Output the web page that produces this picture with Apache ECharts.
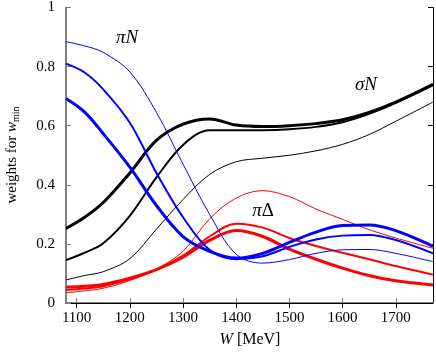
<!DOCTYPE html>
<html>
<head>
<meta charset="utf-8">
<script src="https://cdn.jsdelivr.net/npm/echarts@6/dist/echarts.min.js"></script>
<style>
  html, body { margin: 0; padding: 0; background: #fff; }
  #chart { width: 436px; height: 353px; }
</style>
</head>
<body>
<div id="chart"></div>
<script>
// W grid in MeV
const wGrid = [1080, 1115, 1150, 1200, 1250, 1300, 1350, 1400, 1450, 1500, 1550, 1600, 1650, 1700, 1770]
const xTicks = [1100, 1200, 1300, 1400, 1500, 1600, 1700]

// pi N weights (thin, medium, thick)
const piNThin = [0.884, 0.87, 0.848, 0.782, 0.645, 0.47, 0.3, 0.165, 0.135, 0.147, 0.168, 0.18, 0.181, 0.168, 0.14]
const piNMed = [0.81, 0.78, 0.723, 0.61, 0.44, 0.29, 0.18, 0.148, 0.158, 0.19, 0.215, 0.228, 0.23, 0.213, 0.168]
const piNThick = [0.692, 0.646, 0.573, 0.46, 0.33, 0.225, 0.175, 0.152, 0.168, 0.205, 0.24, 0.262, 0.264, 0.245, 0.192]

// sigma N weights
const sigmaNThin = [0.078, 0.093, 0.106, 0.15, 0.25, 0.35, 0.435, 0.478, 0.49, 0.5, 0.515, 0.537, 0.57, 0.615, 0.68]
const sigmaNMed = [0.145, 0.17, 0.202, 0.295, 0.425, 0.535, 0.585, 0.585, 0.585, 0.588, 0.596, 0.612, 0.64, 0.677, 0.737]
const sigmaNThick = [0.252, 0.29, 0.34, 0.44, 0.55, 0.605, 0.623, 0.602, 0.597, 0.6, 0.607, 0.62, 0.645, 0.68, 0.74]

// pi Delta weights
const piDeltaThin = [0.035, 0.041, 0.05, 0.076, 0.115, 0.175, 0.285, 0.355, 0.38, 0.36, 0.318, 0.283, 0.248, 0.22, 0.185]
const piDeltaMed = [0.044, 0.049, 0.057, 0.08, 0.113, 0.16, 0.225, 0.268, 0.255, 0.22, 0.193, 0.17, 0.148, 0.125, 0.096]
const piDeltaThick = [0.054, 0.057, 0.063, 0.084, 0.113, 0.155, 0.212, 0.245, 0.225, 0.182, 0.148, 0.118, 0.093, 0.075, 0.061]

const serif = 'Liberation Serif'
const chart = echarts.init(document.querySelector('#chart'))

function curve(values, color, width) {
  return {
    type: 'line',
    data: wGrid.map((w, i) => [w, values[i]]),
    smooth: 0.35,
    showSymbol: false,
    silent: true,
    lineStyle: { color: color, width: width },
    animation: false
  }
}

const tickStyle = { inside: true, length: 5, lineStyle: { color: '#808080', width: 1 } }

const option = {
  animation: false,
  grid: { left: 66, top: 7, right: 3, bottom: 50 },
  xAxis: [
    {
      type: 'value', min: 1080, max: 1770,
      axisLine: { show: true, lineStyle: { color: '#808080', width: 2 } },
      axisTick: Object.assign({ customValues: xTicks }, tickStyle),
      axisLabel: { customValues: xTicks, formatter: v => String(v), color: '#000', fontFamily: serif, fontSize: 15, margin: 8 },
      splitLine: { show: false }
    },
    {
      type: 'value', min: 1080, max: 1770, position: 'top',
      axisLine: { show: true, lineStyle: { color: '#000', width: 1 } },
      axisTick: { customValues: xTicks, inside: true, length: 5, lineStyle: { color: '#000' } },
      axisLabel: { show: false },
      splitLine: { show: false }
    }
  ],
  yAxis: [
    {
      type: 'value', min: 0, max: 1, interval: 0.2,
      axisLine: { show: true, lineStyle: { color: '#808080', width: 2 } },
      axisTick: tickStyle,
      axisLabel: { color: '#000', fontFamily: serif, fontSize: 15, margin: 11 },
      splitLine: { show: false }
    },
    {
      type: 'value', min: 0, max: 1, interval: 0.2, position: 'right',
      axisLine: { show: true, lineStyle: { color: '#000', width: 1 } },
      axisTick: { inside: true, length: 5, lineStyle: { color: '#000' } },
      axisLabel: { show: false },
      splitLine: { show: false }
    }
  ],
  series: [
    curve(sigmaNThin, '#000000', 1),
    curve(sigmaNMed, '#000000', 2),
    curve(sigmaNThick, '#000000', 3),
    curve(piDeltaThin, '#ff0000', 1),
    curve(piDeltaMed, '#ff0000', 2),
    curve(piDeltaThick, '#ff0000', 3),
    curve(piNThin, '#0000ff', 1),
    curve(piNMed, '#0000ff', 2),
    curve(piNThick, '#0000ff', 3)
  ],
  graphic: [
    {
      type: 'text', x: 12, y: 155, rotation: Math.PI / 2,
      style: {
        text: 'weights for {i|w}{s|min}',
        fontFamily: serif, fontSize: 15, fill: '#000',
        align: 'center', verticalAlign: 'middle',
        rich: {
          i: { fontFamily: serif, fontStyle: 'italic', fontSize: 15, lineHeight: 18 },
          s: { fontFamily: serif, fontSize: 10, lineHeight: 10, verticalAlign: 'bottom' }
        }
      }
    },
    {
      type: 'text', x: 250, y: 340,
      style: {
        text: '{i|W} [MeV]',
        fontFamily: serif, fontSize: 16, fill: '#000',
        align: 'center', verticalAlign: 'middle',
        rich: { i: { fontFamily: serif, fontStyle: 'italic', fontSize: 16 } }
      }
    },
    {
      type: 'text', x: 127, y: 38,
      style: { text: 'πN', fontFamily: serif, fontStyle: 'italic', fontSize: 19, fill: '#000', align: 'center', verticalAlign: 'middle' }
    },
    {
      type: 'text', x: 366, y: 85,
      style: { text: 'σN', fontFamily: serif, fontStyle: 'italic', fontSize: 19, fill: '#000', align: 'center', verticalAlign: 'middle' }
    },
    {
      type: 'text', x: 263, y: 211,
      style: {
        text: '{i|π}Δ', fontFamily: serif, fontSize: 19, fill: '#000', align: 'center', verticalAlign: 'middle',
        rich: { i: { fontFamily: serif, fontStyle: 'italic', fontSize: 19 } }
      }
    }
  ]
}

chart.setOption(option)
</script>
</body>
</html>
